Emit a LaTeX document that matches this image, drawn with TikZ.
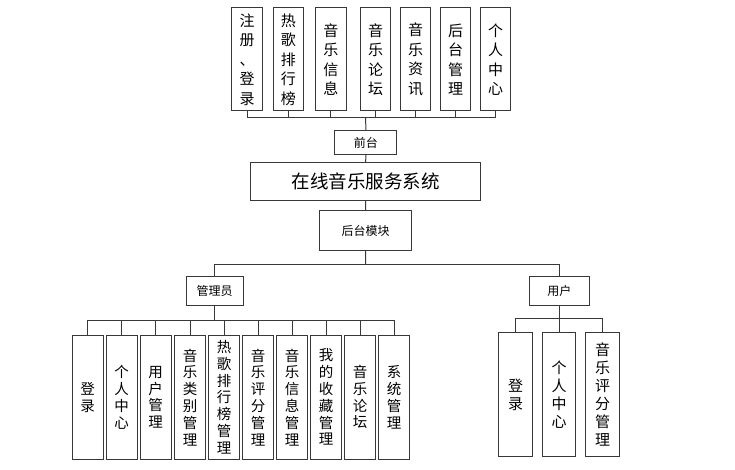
\documentclass[tikz,border=0pt]{standalone}
\usepackage{fontspec}
\setmainfont{Noto Sans CJK SC}
\begin{document}
\begin{tikzpicture}[x=1pt,y=-1pt,
  every node/.style={inner sep=0pt,outer sep=0pt},
  frame/.style={draw=black!78,line width=1pt,fill=white},
  topbox/.style={frame,minimum width=30.6pt,minimum height=103pt,align=center,font=\fontsize{15}{19.5}\selectfont},
  lbox/.style={frame,minimum width=31.4pt,minimum height=124.3pt,align=center,font=\fontsize{14.5}{16.8}\selectfont},
  rbox/.style={frame,minimum width=33.5pt,minimum height=124.4pt,align=center,font=\fontsize{15}{18}\selectfont},
  smallbox/.style={frame,font=\fontsize{12}{14}\selectfont},
  link/.style={draw=black!78,line width=1pt}]
\useasboundingbox (0,0) rectangle (735,470);

% top row
\node[topbox] (t1) at (247,59.5) {注\\册\\、\\登\\录};
\node[topbox] (t2) at (288.3,59.5) {热\\歌\\排\\行\\榜};
\node[topbox] (t3) at (330.8,59.5) {音\\乐\\信\\息};
\node[topbox] (t4) at (375.5,59.5) {音\\乐\\论\\坛};
\node[topbox] (t5) at (415.5,59.5) {音\\乐\\资\\讯};
\node[topbox] (t6) at (455.5,59.5) {后\\台\\管\\理};
\node[topbox] (t7) at (495.5,59.5) {个\\人\\中\\心};

\node[smallbox,minimum width=61.7pt,minimum height=24pt] (qt) at (365.8,143) {前台};
\node[frame,minimum width=230pt,minimum height=38pt,font=\fontsize{18.5}{20}\selectfont] (sys) at (365.7,181.7) {在线音乐服务系统};
\node[smallbox,minimum width=92.4pt,minimum height=39pt] (ht) at (365.5,230.5) {后台模块};
\node[smallbox,minimum width=57.3pt,minimum height=29.3pt] (adm) at (214.7,290.7) {管理员};
\node[smallbox,minimum width=60pt,minimum height=29pt] (usr) at (559.3,290.5) {用户};

% admin children
\node[lbox] (a1) at (87.7,397.2) {登\\录};
\node[lbox] (a2) at (121.7,397.2) {个\\人\\中\\心};
\node[lbox] (a3) at (155.7,397.2) {用\\户\\管\\理};
\node[lbox] (a4) at (190,397.2) {音\\乐\\类\\别\\管\\理};
\node[lbox] (a5) at (224,397.2) {热\\歌\\排\\行\\榜\\管\\理};
\node[lbox] (a6) at (258,397.2) {音\\乐\\评\\分\\管\\理};
\node[lbox] (a7) at (292.2,397.2) {音\\乐\\信\\息\\管\\理};
\node[lbox] (a8) at (326,397.2) {我\\的\\收\\藏\\管\\理};
\node[lbox] (a9) at (360,397.2) {音\\乐\\论\\坛};
\node[lbox] (a10) at (394.2,397.2) {系\\统\\管\\理};

% user children
\node[rbox] (u1) at (515.5,394.5) {登\\录};
\node[rbox] (u2) at (559,394.5) {个\\人\\中\\心};
\node[rbox] (u3) at (602.7,394.5) {音\\乐\\评\\分\\管\\理};

% buses
\coordinate (topbus) at (365.7,118);
\coordinate (midbus) at (365.7,264);
\coordinate (admbus) at (214.7,320);
\coordinate (usrbus) at (559.3,318.3);

% top connectors
\foreach \n in {t1,t2,t3,t4,t5,t6,t7} \path[link] (\n.south) -- (\n.south |- topbus);
\path[link] (t1.south |- topbus) -- (t7.south |- topbus);
\path[link] (topbus) -- (qt.north);
\path[link] (qt.south) -- (sys.north);
\path[link] (sys.south) -- (ht.north);

% mid connectors
\path[link] (ht.south) -- (midbus);
\path[link] (adm.north |- midbus) -- (usr.north |- midbus);
\path[link] (adm.north |- midbus) -- (adm.north);
\path[link] (usr.north |- midbus) -- (usr.north);

% admin connectors
\path[link] (adm.south) -- (admbus);
\path[link] (a1.north |- admbus) -- (a10.north |- admbus);
\foreach \n in {a1,a2,a3,a4,a5,a6,a7,a8,a9,a10} \path[link] (\n.north |- admbus) -- (\n.north);

% user connectors
\path[link] (usr.south) -- (usrbus);
\path[link] (u1.north |- usrbus) -- (u3.north |- usrbus);
\foreach \n in {u1,u2,u3} \path[link] (\n.north |- usrbus) -- (\n.north);
\end{tikzpicture}
\end{document}
